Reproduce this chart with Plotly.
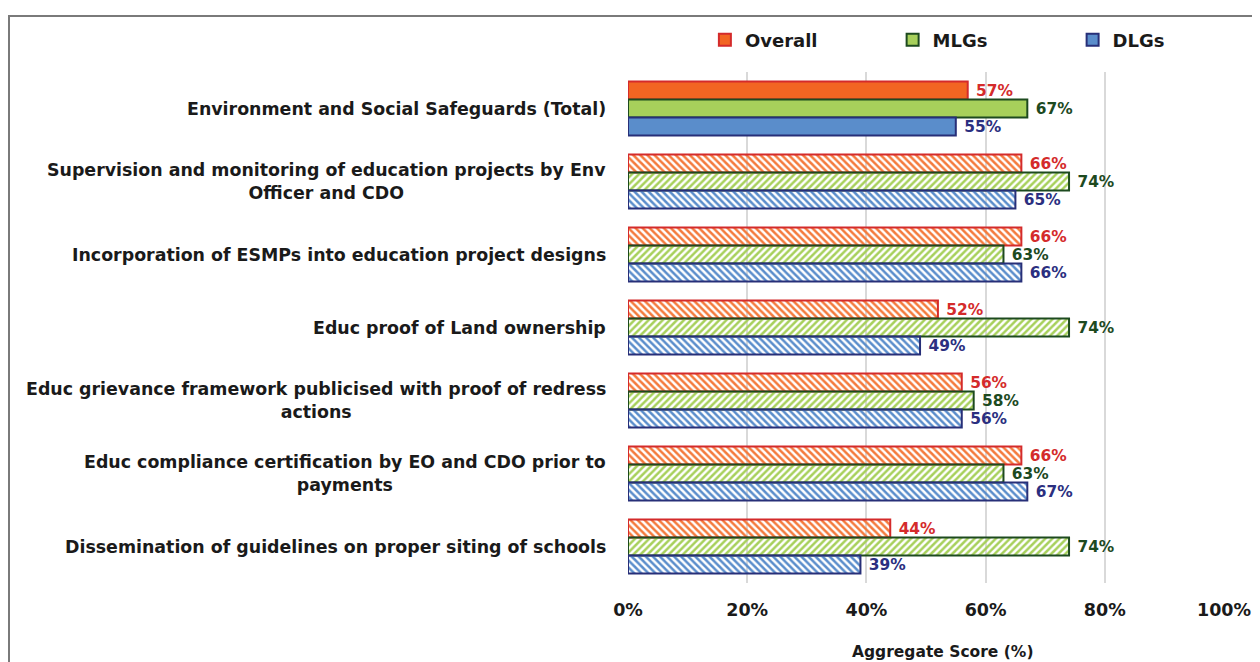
import plotly.graph_objects as go

categories = [
    "Environment and Social Safeguards (Total)",
    "Supervision and monitoring of education projects by Env<br>Officer and CDO",
    "Incorporation of ESMPs into education project designs",
    "Educ proof of Land ownership",
    "Educ grievance framework publicised with proof of redress<br>actions",
    "Educ compliance certification by EO and CDO prior to<br>payments",
    "Dissemination of guidelines on proper siting of schools",
]
overall = [57, 66, 66, 52, 56, 66, 44]
mlgs = [67, 74, 63, 74, 58, 63, 74]
dlgs = [55, 65, 66, 49, 56, 67, 39]
x_ticks = [0, 20, 40, 60, 80, 100]
x_tick_labels = ["0%", "20%", "40%", "60%", "80%", "100%"]

FONT = "DejaVu Sans"
INK = "#1a1a1a"

series = [
    ("Overall", overall, "#f26522", "#f47a3c", "#d42b2b", "#d42b2b", "\\", "legend", 0.129),
    ("MLGs", mlgs, "#a7d05b", "#a7d05b", "#1d4a1f", "#1d4a1f", "/", "legend2", 0.444),
    ("DLGs", dlgs, "#5a8dcb", "#5a8dcb", "#272f78", "#2b2f80", "\\", "legend3", 0.746),
]

fig = go.Figure()
legends = {}
for name, vals, solid, hatch, line, tcol, shp, leg, lx in series:
    n = len(vals)
    fig.add_trace(go.Bar(
        name=name,
        y=categories,
        x=vals,
        orientation="h",
        legend=leg,
        marker=dict(
            color=[solid] + [hatch] * (n - 1),
            line=dict(color=line, width=2),
            pattern=dict(shape=[""] + [shp] * (n - 1), size=5, solidity=0.5,
                         fillmode="replace"),
        ),
        text=[f" {v}%" for v in vals],
        textposition="outside",
        textfont=dict(family=FONT, size=18, color=tcol, weight="bold"),
        cliponaxis=False,
    ))
    legends[leg] = dict(orientation="v", x=lx, xanchor="left", y=1.0626, yanchor="middle",
                        itemwidth=30, bgcolor="rgba(0,0,0,0)",
                        font=dict(family=FONT, size=18, color=INK, weight="bold"))

annotations = []
for c in categories:
    annotations.append(dict(
        x=-0.0336, xref="paper", y=c, yref="y",
        text=c, showarrow=False, xanchor="right", yanchor="middle",
        align="center",
        font=dict(family=FONT, size=17.4, color=INK, weight="bold"),
    ))
annotations.append(dict(
    x=0.528, xref="paper", y=-0.135, yref="paper",
    text="Aggregate Score (%)", showarrow=False, xanchor="center", yanchor="middle",
    font=dict(family=FONT, size=15.5, color=INK, weight="bold"),
))

fig.update_layout(
    width=1252, height=654,
    margin=dict(l=620, r=36, t=64, b=79),
    paper_bgcolor="white", plot_bgcolor="white",
    barmode="group", bargap=0.26, bargroupgap=0,
    showlegend=True,
    xaxis=dict(range=[0, 100], tickvals=x_ticks, ticktext=x_tick_labels,
               showgrid=True, gridcolor="#d9d9d9", gridwidth=1.5, zeroline=False,
               showline=False, ticks="", ticklabelstandoff=14, automargin=False,
               tickfont=dict(family=FONT, size=17.5, color=INK, weight="bold")),
    yaxis=dict(autorange="reversed", showticklabels=False, showgrid=False,
               zeroline=False, showline=False, ticks="", automargin=False),
    annotations=annotations,
    shapes=[dict(type="rect", xref="paper", yref="paper",
                 x0=-1.0386, x1=1.3, y0=-0.4, y1=1.1096,
                 line=dict(color="#7a7a7a", width=2), fillcolor="rgba(0,0,0,0)",
                 layer="below")],
    **legends,
)

fig.write_html("out.html")
